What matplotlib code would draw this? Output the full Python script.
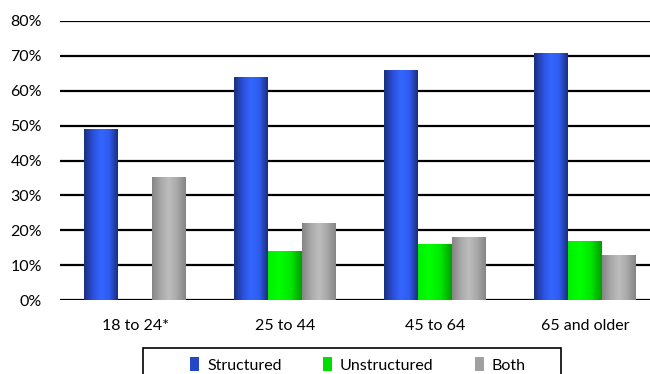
import numpy as np
import matplotlib.pyplot as plt
from matplotlib.colors import LinearSegmentedColormap
from matplotlib.patches import Patch, Rectangle

# data
groups = ["18 to 24*", "25 to 44", "45 to 64", "65 and older"]
series = ["Structured", "Unstructured", "Both"]
structured = [49, 63.8, 66, 70.7]
unstructured = [0, 14, 16, 17]
both = [35.3, 22, 18, 13]

plt.rcParams['font.family'] = ['Lato', 'DejaVu Sans']

# gradients across each bar (left -> right)
grad_blue = LinearSegmentedColormap.from_list("b", ["#1b2f7c", "#2a4fd8", "#3366ff", "#2f5cf0", "#1b2f7c"])
grad_green = LinearSegmentedColormap.from_list("g", ["#00f000", "#00ff00", "#00e800", "#00a000"])
grad_gray = LinearSegmentedColormap.from_list("k", ["#858585", "#a8a8a8", "#bdbdbd", "#a8a8a8", "#858585"])
solid = ["#2447c8", "#00dd00", "#a0a0a0"]

fig = plt.figure(figsize=(6.5, 3.74), dpi=100)
ax = fig.add_axes([60 / 650, 74 / 374, 600 / 650, 279 / 374])

x = np.arange(len(groups))
w = 0.225
values = [structured, unstructured, both]
cmaps = [grad_blue, grad_green, grad_gray]
gradient = np.linspace(0, 1, 64).reshape(1, -1)

for i, (vals, cm) in enumerate(zip(values, cmaps)):
    bars = ax.bar(x + (i - 1) * w, vals, w, color="none", edgecolor="none", zorder=3)
    for b in bars:
        if b.get_height() <= 0:
            continue
        x0, y0 = b.get_x(), b.get_y()
        im = ax.imshow(gradient, cmap=cm, aspect="auto", zorder=3,
                       extent=[x0, x0 + b.get_width(), y0, y0 + b.get_height()])
        im.set_clip_path(b)

ax.set_xlim(-0.5, 3.5)
ax.set_ylim(0, 80)
ax.set_yticks(range(0, 81, 10))
ax.set_yticklabels([f"{v}%" for v in range(0, 81, 10)], fontsize=11.5)
ax.set_xticks(x)
ax.set_xticklabels(groups, fontsize=11.5)
ax.tick_params(axis="both", length=0)
ax.tick_params(axis="y", pad=13)
ax.tick_params(axis="x", pad=14)
ax.grid(axis="y", color="black", linewidth=1.6, zorder=0)
ax.set_axisbelow(True)
for s in ax.spines.values():
    s.set_visible(False)

# legend box (runs off the bottom of the picture like the original)
fig.patches.append(Rectangle((143 / 650, -10 / 374), 418 / 650, 36 / 374,
                             transform=fig.transFigure, facecolor="white",
                             edgecolor="black", linewidth=1.2))
handles = [Patch(facecolor=c, edgecolor="none") for c in solid]
fig.legend(handles, series, ncol=3, loc="center",
           bbox_to_anchor=(358 / 650, 1 - 365 / 374),
           frameon=False, fontsize=11.5, handlelength=0.55, handleheight=1.0,
           handletextpad=0.5, columnspacing=2.6, borderaxespad=0, borderpad=0)

fig.savefig("out.png", dpi=100)
